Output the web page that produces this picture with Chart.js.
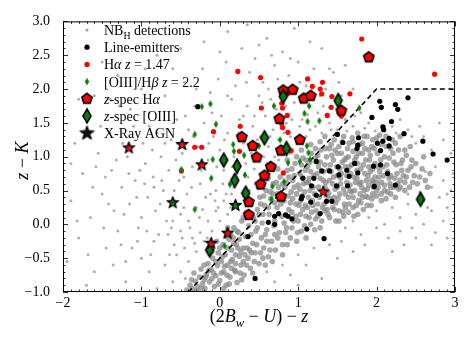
<!DOCTYPE html>
<html>
<head>
<meta charset="utf-8">
<script src="https://cdn.jsdelivr.net/npm/chart.js@4.4.1/dist/chart.umd.min.js"></script>
<style>
  html, body { margin: 0; padding: 0; background: #fff; }
  #chart { display: block; }
</style>
</head>
<body>
<canvas id="chart" width="469" height="342"></canvas>
<script>
// colour-colour diagram: z-K vs (2Bw-U)-z

// x-ray AGN (star), with the line class they were picked on
const agnPoints = [[-1.16, 1.13], [-0.48, 1.18], [-0.23, 0.88], [-0.60, 0.32], [0.20, 0.28], [0.10, -0.13], [-0.11, -0.28], [1.32, 0.48]]
const agnClass = ['Ha', 'Ha', 'Ha', 'OIII', 'OIII', 'Ha', 'Ha', 'HaFace']

// spectroscopically confirmed
const specOIII = [[0.81, 1.89], [1.51, 1.83], [0.57, 1.28], [0.85, 1.12], [0.05, 0.95], [0.22, 0.86], [0.19, 0.65], [0.33, 0.46], [2.56, 0.37], [-0.13, -0.38]]
const specHa = [[1.90, 2.47], [0.81, 1.98], [0.93, 1.99], [1.07, 1.86], [1.16, 1.90], [1.55, 1.68], [0.76, 1.56], [0.28, 1.29], [0.42, 1.16], [1.02, 1.25],
  [0.78, 1.09], [0.47, 0.99], [0.65, 0.85], [0.57, 0.72], [0.52, 0.59], [0.78, 0.41], [0.37, 0.33], [0.37, 0.14]]

// photometric selections
const oiiiEmitters = [[-0.23, 1.74], [-0.12, 1.78], [-0.05, 1.48], [-0.32, 1.33], [0.69, 1.75], [1.08, 1.64], [1.12, 1.52], [1.27, 1.53], [1.78, 1.72], [0.77, 1.25],
  [0.17, 1.18], [1.11, 1.16], [1.14, 1.75], [0.18, 1.08], [0.31, 1.02], [-0.09, 0.96], [-0.11, 0.68], [0.13, 0.59], [0.32, 0.73], [0.67, 0.56],
  [0.82, 0.63], [0.87, 0.91], [1.02, 0.93], [1.13, 1.06], [1.15, 0.96], [0.66, 0.37], [-0.32, 0.22], [0.06, -0.32], [-0.49, 0.81], [0.50, 1.16]]
const haEmitters = [[1.81, 2.74], [2.74, 2.22], [0.23, 2.26], [0.52, 2.17], [1.12, 2.15], [1.18, 2.04], [1.31, 2.10], [1.28, 2.00], [1.30, 1.93], [1.43, 1.89],
  [1.66, 1.93], [0.86, 1.93], [0.53, 1.72], [0.79, 1.79], [0.80, 1.72], [1.42, 1.73], [1.37, 1.61], [0.26, 1.45], [-0.08, 1.37], [0.79, 1.49],
  [0.80, 1.43], [0.87, 1.36], [-0.32, 1.14], [-0.23, 1.14], [0.25, 1.08], [0.86, 1.61], [0.81, 0.76], [0.91, 1.09], [-0.49, 0.79], [1.55, 1.60]]
const lineEmitters = [[2.04, 1.82], [2.06, 1.73], [2.24, 1.77], [2.27, 1.70], [2.40, 1.87], [1.94, 1.58], [2.19, 1.52], [-0.28, 1.74], [2.08, 1.44], [2.09, 1.40],
  [2.35, 1.34], [2.16, 1.27], [2.08, 1.23], [2.01, 1.20], [2.16, 1.16], [2.59, 1.23], [2.05, 1.09], [2.72, 1.04], [2.90, 0.95], [1.96, 0.86],
  [2.05, 0.88], [2.14, 0.75], [1.97, 0.56], [2.24, 0.58], [1.50, 1.33], [1.57, 1.21], [1.77, 1.28], [1.76, 1.17], [1.75, 1.12], [1.23, 0.93],
  [1.06, 0.68], [1.20, 0.68], [1.30, 0.79], [1.40, 0.79], [1.51, 0.85], [1.52, 0.73], [1.62, 0.80], [1.65, 0.71], [1.76, 0.76], [1.72, 0.90],
  [1.63, 0.57], [1.17, 0.57], [1.49, 0.57], [1.05, 0.41], [1.16, 0.33], [1.23, 0.43], [1.36, 0.34], [1.43, 0.34], [1.28, 0.16], [0.84, 0.14],
  [0.87, 0.12], [0.70, 0.12], [0.75, 0.16], [0.92, 0.08], [0.62, 0.03], [0.70, 0.00], [1.11, -0.07], [1.33, -0.21], [0.36, -0.18], [0.45, -0.80], [1.04, 0.38]]

// NB_H detections, main locus
const nbCore = [[-0.42, -0.97], [-0.38, -0.9], [-0.35, -0.95], [-0.31, -0.84], [-0.28, -0.92], [-0.26, -0.78], [-0.33, -0.72], [-0.22, -0.88], [-0.24, -0.66], [-0.19, -0.95],
  [-0.17, -0.74], [-0.15, -0.58], [-0.13, -0.85], [-0.11, -0.67], [-0.09, -0.5], [-0.07, -0.92], [-0.05, -0.76], [-0.03, -0.61], [-0.02, -0.42], [0.0, -0.83],
  [0.02, -0.55], [0.04, -0.3], [0.05, -0.7], [0.07, -0.45], [0.08, -0.9], [0.1, -0.6], [0.12, -0.22], [0.13, -0.78], [0.15, -0.38], [0.16, -0.52],
  [0.18, -0.05], [0.19, -0.68], [0.21, -0.3], [0.22, -0.86], [0.24, -0.12], [0.25, -0.47], [0.27, -0.6], [0.28, 0.05], [0.3, -0.35], [0.31, -0.75],
  [0.33, -0.18], [0.34, 0.18], [0.36, -0.5], [0.37, -0.02], [0.39, -0.65], [0.4, 0.3], [0.42, -0.28], [0.43, 0.1], [0.45, -0.42], [0.46, -0.1],
  [0.48, 0.22], [0.5, -0.58], [0.51, 0.4], [0.53, -0.2], [0.54, 0.02], [0.56, -0.35], [0.57, 0.28], [0.59, 0.5], [0.6, -0.08], [0.62, -0.48],
  [0.63, 0.15], [0.65, 0.38], [0.66, -0.25], [0.68, 0.6], [0.7, 0.05], [0.71, -0.38], [0.73, 0.25], [0.74, 0.45], [0.76, -0.12], [0.77, 0.7],
  [0.79, 0.12], [0.8, -0.3], [0.82, 0.35], [0.83, 0.55], [0.85, -0.05], [0.86, 0.8], [0.88, 0.22], [0.9, -0.2], [0.91, 0.48], [0.93, 0.65],
  [0.94, 0.05], [0.96, 0.9], [0.97, 0.3], [0.99, -0.12], [1.0, 0.58], [1.02, 0.75], [1.03, 0.15], [1.05, 0.42], [1.06, 0.98], [1.08, -0.02],
  [1.09, 0.28], [1.11, 0.62], [1.12, 0.85], [1.14, 0.1], [1.15, 0.5], [1.17, 1.05], [1.18, 0.35], [1.2, 0.72], [1.21, -0.08], [1.23, 0.2],
  [1.24, 0.92], [1.26, 0.55], [1.27, 0.4], [1.29, 1.1], [1.3, 0.05], [1.32, 0.78], [1.33, 0.3], [1.35, 0.62], [1.36, 1.0], [1.38, 0.15],
  [1.39, 0.46], [1.41, 0.88], [1.42, 1.18], [1.44, 0.25], [1.45, 0.7], [1.47, 0.52], [1.48, 0.05], [1.5, 1.05], [1.51, 0.38], [1.53, 0.82],
  [1.54, 0.6], [1.56, 1.22], [1.57, 0.18], [1.59, 0.95], [1.6, 0.45], [1.62, 0.72], [1.63, 1.12], [1.65, 0.3], [1.66, 0.58], [1.68, 0.88],
  [1.69, 1.28], [1.71, 0.12], [1.72, 0.5], [1.74, 1.0], [1.75, 0.68], [1.77, 0.35], [1.78, 1.18], [1.8, 0.82], [1.81, 0.55], [1.83, 0.22],
  [1.84, 1.3], [1.86, 0.95], [1.87, 0.65], [1.89, 0.4], [1.9, 1.1], [1.92, 0.78], [1.93, 0.28], [1.95, 1.25], [1.96, 0.55], [1.98, 0.9],
  [2.0, 0.42], [2.01, 1.05], [2.03, 0.7], [2.04, 1.32], [2.06, 0.35], [2.08, 0.85], [2.1, 0.58], [2.12, 1.15], [2.14, 0.48], [2.16, 0.98],
  [2.18, 0.72], [2.2, 1.25], [2.22, 0.55], [2.25, 0.88], [2.28, 1.1], [2.3, 0.65], [2.33, 0.95], [2.36, 0.5], [2.4, 0.8], [2.43, 1.15],
  [2.46, 0.62], [2.5, 0.9], [2.55, 0.7], [2.6, 1.0], [2.65, 0.55],
  [0.82, 0.02], [0.87, 0.42], [0.92, 0.18], [0.95, 0.72], [0.98, 0.45], [1.01, 0.28], [1.04, 0.88], [1.07, 0.6], [1.1, 0.12], [1.13, 0.4],
  [1.16, 0.78], [1.19, 0.55], [1.22, 0.98], [1.25, 0.3], [1.28, 0.68], [1.31, 0.5], [1.34, 0.88], [1.37, 0.22], [1.4, 0.65], [1.43, 1.02],
  [1.46, 0.4], [1.49, 0.85], [1.52, 0.2], [1.55, 0.75], [1.58, 0.52], [1.61, 0.98], [1.64, 0.4], [1.67, 0.75], [1.7, 1.08], [1.73, 0.62],
  [1.76, 0.9], [1.79, 0.45], [1.82, 1.05], [1.85, 0.75], [1.88, 0.52], [1.91, 0.95], [1.94, 0.65], [1.97, 1.12], [2.02, 0.55], [2.05, 0.95],
  [2.09, 0.72], [2.13, 0.88], [2.17, 0.6], [2.21, 1.05], [2.26, 0.75], [2.31, 0.9],
  [0.9, 0.32], [1.0, 0.05], [1.12, 0.25], [1.25, 0.12], [1.36, 0.42], [1.5, 0.55], [1.6, 0.25], [1.7, 0.4], [1.8, 0.32], [1.9, 0.58],
  [2.0, 0.62], [1.45, 0.95], [1.55, 1.05], [1.65, 1.2], [1.75, 0.8], [1.85, 1.12], [1.95, 0.82], [1.35, 1.12], [1.25, 1.02], [1.15, 0.92],
  [1.05, 0.7], [0.95, 0.55], [0.85, 0.62], [0.75, 0.55], [0.7, 0.32], [0.62, 0.25], [0.55, 0.15], [0.48, -0.05], [0.4, -0.15], [0.35, -0.35],
  [0.3, 0.1], [0.25, -0.22], [0.2, -0.45], [0.14, -0.15], [0.1, -0.35], [0.06, -0.62], [0.0, -0.35], [-0.05, -0.55], [-0.1, -0.8], [-0.2, -0.6],
  [0.93, 0.38], [0.97, 0.12], [1.02, 0.52], [1.06, 0.22], [1.09, 0.8], [1.13, 0.62], [1.17, 0.18], [1.21, 0.45], [1.24, 0.75], [1.28, 0.92],
  [1.31, 0.25], [1.34, 0.55], [1.38, 0.8], [1.41, 0.38], [1.44, 0.6], [1.47, 1.1], [1.5, 0.72], [1.53, 0.45], [1.56, 0.92], [1.59, 0.3],
  [1.62, 0.62], [1.65, 0.85], [1.68, 0.48], [1.71, 0.7], [1.74, 0.28], [1.77, 1.05], [1.8, 0.62], [1.83, 0.88], [1.86, 0.42], [1.89, 0.72],
  [1.92, 1.02], [1.95, 0.45], [1.98, 0.7], [2.02, 0.85], [2.06, 0.62], [2.1, 1.0], [2.14, 0.78], [2.18, 0.45], [2.23, 0.68], [2.28, 0.52],
  [2.34, 0.72], [2.38, 1.02], [2.44, 0.85],
  [0.45, 0.05], [0.52, 0.3], [0.58, -0.15], [0.64, 0.48], [0.69, -0.02], [0.72, 0.62], [0.78, 0.3], [0.84, -0.12], [0.88, 0.7], [0.3, -0.55],
  [0.22, -0.1], [0.15, -0.65], [0.08, -0.18], [0.02, -0.72], [-0.04, -0.25], [-0.1, -0.4], [-0.18, -0.78], [-0.24, -0.95], [0.35, 0.12], [0.4, -0.42],
  [0.5, 0.15], [0.27, -0.4], [0.18, -0.28], [0.1, -0.05],
  [0.05, -0.95], [0.12, -0.88], [0.2, -0.7], [0.28, -0.82], [0.34, -0.6], [0.42, -0.72], [0.47, -0.3], [0.55, -0.5], [0.6, -0.25], [0.67, -0.55],
  [0.74, -0.2], [0.8, -0.45], [0.86, -0.3], [0.92, -0.05], [0.98, -0.25], [1.04, -0.1], [1.1, -0.2], [1.16, 0.0], [1.22, 0.08], [1.28, -0.05],
  [1.34, 0.2], [1.4, 0.1], [1.46, 0.22], [1.52, 0.05], [1.58, 0.12], [1.64, 0.18], [1.7, 0.25], [1.76, 0.15], [1.82, 0.4], [1.88, 0.28],
  [1.94, 0.38], [2.0, 0.5], [2.06, 0.45], [2.12, 0.38], [2.18, 0.55], [2.24, 0.4], [2.3, 0.55], [2.36, 0.62], [2.42, 0.55], [2.48, 0.72],
  [2.52, 0.6], [2.58, 0.82], [2.62, 0.65], [2.68, 0.75],
  [0.5, 0.55], [0.56, 0.42], [0.62, 0.68], [0.68, 0.45], [0.74, 0.82], [0.8, 0.6], [0.86, 0.95], [0.92, 0.82], [0.98, 1.0], [1.04, 1.1],
  [1.1, 0.95], [1.16, 1.18], [1.22, 1.12], [1.28, 1.22], [1.34, 1.3], [1.4, 1.12], [1.46, 1.25], [1.52, 1.15], [1.58, 1.3], [1.64, 1.0],
  [1.7, 1.22], [1.76, 1.35], [1.82, 1.2], [1.88, 1.3], [1.94, 1.15], [2.0, 1.28], [2.06, 1.18], [2.12, 1.3], [2.18, 1.12], [2.24, 1.2],
  [2.3, 1.3], [2.36, 1.1],
  [1.03, 0.35], [1.08, 0.48], [1.14, 0.68], [1.19, 0.28], [1.26, 0.85], [1.32, 0.65], [1.37, 0.5], [1.42, 0.78], [1.48, 0.32], [1.54, 0.68],
  [1.6, 0.85], [1.66, 0.5], [1.72, 0.95], [1.78, 0.6], [1.84, 0.5], [1.9, 0.85], [1.96, 0.62], [2.04, 0.78], [2.1, 0.5], [2.16, 0.68],
  [2.22, 0.92], [2.27, 0.6], [2.32, 0.8], [2.38, 0.7], [2.45, 0.95],
  [-0.36, -0.82], [-0.3, -0.98], [-0.2, -0.82], [-0.14, -0.68], [-0.08, -0.72], [-0.02, -0.88], [0.03, -0.48], [0.09, -0.75], [0.14, -0.55], [0.2, -0.58],
  [0.26, -0.72], [0.32, -0.45], [0.38, -0.38], [0.44, -0.55], [0.52, -0.42], [0.58, -0.6], [0.64, -0.38], [0.7, -0.15], [0.23, -0.35], [0.17, -0.2]]

// NB_H detections, outskirts
const nbSparse = [[0.55, 0.72], [0.6, 0.9], [0.65, 0.8], [0.7, 1.0], [0.75, 0.95], [0.8, 1.15], [0.9, 1.05], [1.0, 1.25], [1.1, 1.3], [0.45, 0.6],
  [0.38, 0.5], [0.3, 0.42], [0.2, 0.3], [0.1, 0.15], [0.0, 0.05], [-0.1, -0.1], [-0.2, -0.25], [-0.3, -0.4], [-0.4, -0.55], [0.15, 0.45],
  [0.05, 0.35], [-0.05, 0.2], [-0.15, 0.05], [-0.25, -0.12], [-0.35, -0.2], [-0.45, -0.35], [-0.5, -0.1], [-0.6, 0.05],
  [1.6, -0.05], [1.7, 0.05], [1.8, -0.15], [1.9, 0.1], [2.0, 0.2], [2.1, 0.0], [2.2, 0.25], [2.3, 0.1], [2.4, 0.3], [2.5, 0.15],
  [2.6, 0.35], [2.7, 0.2], [2.8, 0.4], [2.9, 0.25], [2.95, 0.5], [2.3, -0.1], [2.45, -0.05], [2.6, 0.0], [2.75, -0.12], [2.85, 0.05],
  [2.15, -0.2], [2.0, -0.05], [1.85, -0.3], [2.4, 0.45], [2.55, 0.48], [2.7, 0.55], [2.85, 0.65], [2.62, 0.78], [2.75, 0.85], [2.9, 0.95],
  [2.5, 1.2], [2.6, 1.3], [2.4, 1.4], [2.2, 1.45], [2.3, 1.55], [2.7, 1.1], [2.85, 1.25], [1.4, -0.3], [1.55, -0.25], [1.2, -0.35],
  [1.0, -0.45], [0.8, -0.6], [0.6, -0.7], [0.9, -0.75], [1.3, -0.8], [1.1, -0.6],
  [-1.95, -0.55], [-1.9, 0.35], [-1.85, 1.2], [-1.8, -0.2], [-1.75, 0.75], [-1.7, 1.6], [-1.65, 0.1], [-1.6, -0.7], [-1.55, 1.05], [-1.5, 0.45],
  [-1.45, -0.35], [-1.4, 1.35], [-1.38, 0.8], [-1.35, 0.2], [-1.3, -0.1], [-1.28, 1.75], [-1.25, 0.55], [-1.2, -0.55], [-1.18, 1.0], [-1.15, 0.3],
  [-1.1, 1.45], [-1.08, 0.65], [-1.05, -0.25], [-1.0, 0.1], [-0.98, 1.2], [-0.95, 0.9], [-0.92, 0.4], [-0.9, 1.65], [-0.88, -0.45], [-0.85, 0.7],
  [-0.82, 0.2], [-0.8, 1.35], [-0.78, -0.15], [-0.75, 1.0], [-0.72, 0.5], [-0.7, 1.9], [-0.68, 0.05], [-0.65, 0.8], [-0.62, 1.25], [-0.6, 0.35],
  [-0.58, -0.3], [-0.55, 1.55], [-0.52, 0.65], [-0.5, 0.15], [-0.48, 1.05], [-0.45, 2.1], [-0.42, 0.45], [-0.4, 1.4], [-0.38, -0.05], [-0.35, 0.85],
  [-0.32, 1.75], [-0.3, 0.25], [-0.28, 1.15], [-0.25, 0.6], [-0.22, 2.3], [-0.2, 1.5], [-0.18, 0.4], [-0.15, 0.95], [-0.12, 1.95], [-0.1, 0.7],
  [-0.08, 1.3], [-0.05, 0.5], [-0.02, 2.15], [0.0, 1.1], [0.02, 1.6], [0.05, 0.8], [0.08, 2.4], [0.1, 1.35], [0.12, 0.6], [0.15, 1.85],
  [0.18, 1.0], [0.2, 2.05], [0.22, 0.75], [0.25, 1.55], [0.28, 2.6], [0.3, 1.2], [0.33, 0.9], [0.35, 1.75], [0.38, 2.25], [0.4, 1.05],
  [0.42, 1.45], [0.45, 2.45], [0.48, 0.95], [0.5, 1.9], [0.52, 1.3], [0.55, 2.1], [0.58, 1.6], [0.6, 2.75], [0.62, 1.15], [0.65, 1.85],
  [0.68, 1.4], [0.7, 2.35], [0.72, 1.7], [0.75, 1.25], [0.78, 2.0], [0.8, 2.55], [0.85, 1.5], [0.88, 2.2], [0.9, 1.3], [0.95, 1.8],
  [1.0, 2.4], [1.05, 1.55], [1.1, 2.05], [1.15, 1.4], [1.2, 2.3], [1.25, 1.65], [1.3, 1.35], [1.35, 2.0], [1.4, 1.5], [1.45, 2.25],
  [1.5, 1.4], [1.55, 1.9], [1.6, 1.55], [1.7, 1.45], [1.8, 1.65], [1.9, 1.5], [1.3, 2.6], [1.6, 2.35], [1.15, 2.7], [0.95, 2.9],
  [-1.6, 1.9], [-1.3, 2.2], [-1.0, 2.0], [-0.8, 2.5], [-0.5, 2.6], [-0.2, 2.7], [0.1, 2.85], [0.35, 2.95],
  [-1.7, -0.9], [-1.2, -0.85], [-0.9, -0.7], [-0.7, -0.6], [-0.6, -0.85], [-0.8, -0.95], [-1.0, -0.5], [-0.5, -0.7],
  [-1.62, 0.55], [-1.48, -0.05], [-1.32, 0.95], [-1.22, 0.15], [-1.12, -0.35], [-1.02, 0.8], [-0.93, -0.1], [-0.86, 1.1], [-0.76, 0.3], [-0.66, -0.15],
  [-0.56, 0.95], [-0.46, 0.25], [-0.36, 0.55], [-0.26, 0.1], [-0.16, -0.2], [-0.06, 0.35], [0.04, 0.6], [0.14, 0.25], [-0.44, -0.8], [-0.64, -0.45],
  [-0.84, 0.55], [-1.06, 0.4], [-1.26, -0.3], [-1.46, 0.7],
  [-0.55, -0.45], [-0.48, -0.2], [-0.4, 0.05], [-0.32, -0.28], [-0.22, 0.22], [-0.12, 0.45], [-0.02, 0.25], [0.08, 0.45], [0.18, 0.55], [0.26, 0.3],
  [0.36, 0.7], [0.44, 0.82], [0.48, 1.25], [0.56, 1.0], [0.64, 1.3], [0.72, 1.12], [0.82, 1.35], [0.92, 1.55], [1.02, 1.45], [1.12, 1.62],
  [1.22, 1.45], [1.32, 1.75], [1.42, 1.4], [1.5, 1.65], [1.62, 1.38], [1.72, 1.6], [1.85, 1.42], [1.98, 1.38], [2.1, 1.45], [2.25, 1.35],
  [2.45, 1.3], [2.55, 1.45], [2.8, 1.5], [2.95, 1.05], [2.98, 0.75], [2.9, 0.45], [2.65, 0.25], [2.5, -0.2], [2.35, -0.3], [2.2, -0.4],
  [2.9, -0.2], [2.7, -0.3], [1.7, -0.4], [1.5, -0.5], [0.7, -0.85], [1.0, -0.9],
  [-1.9, 0.9], [-1.82, 0.05], [-1.72, 1.3], [-1.68, -0.45], [-1.58, 0.85], [-1.52, 1.45], [-1.42, 0.3], [-1.36, -0.6], [-1.24, 1.2], [-1.16, 0.75],
  [-1.14, 1.7], [-1.04, -0.05], [-0.96, 0.6], [-0.9, 1.45], [-0.84, -0.25], [-0.74, 0.65], [-0.7, 1.2], [-0.62, -0.05], [-0.58, 0.5], [-0.54, 1.2],
  [-0.46, 0.7], [-0.44, 1.6], [-0.34, 1.3], [-0.3, 2.0], [-0.24, 0.8], [-0.14, 1.2], [-0.1, 1.65], [-0.04, 0.85], [0.06, 1.25], [0.1, 1.9],
  [0.16, 0.85], [0.24, 1.35], [0.3, 1.6], [0.34, 2.1], [0.44, 1.6], [0.54, 1.8], [0.62, 2.0], [0.66, 2.5], [0.74, 2.15], [0.84, 1.75],
  [0.9, 2.45], [1.02, 2.1], [1.08, 1.85], [1.18, 2.0], [1.28, 1.9], [1.4, 2.3], [1.52, 2.1], [1.7, 2.0], [-1.5, 2.4], [-0.95, 2.3],
  [-0.6, 2.3], [0.0, 2.55], [0.5, 2.65], [-1.8, 1.85], [-1.4, 1.85]]

// selection boundary (dashed)
const cutX = [-0.4, 2.0, 3.0]
const cutY = [-1.0, 2.0, 2.0]

const xTicks = [-2, -1, 0, 1, 2, 3]
const yTicks = [-1.0, -0.5, 0.0, 0.5, 1.0, 1.5, 2.0, 2.5, 3.0]

const SERIF = '"Liberation Serif", "DejaVu Serif", serif'
const COLORS = {
  greyCore: 'rgba(135,135,135,0.72)',
  grey: 'rgba(150,150,150,0.75)',
  black: '#000000',
  red: '#ff0000',
  green: '#0b7d0b',
  edge: '#000000'
}

const toXY = arr => arr.map(p => ({ x: p[0], y: p[1] }))
const fmt = v => String(v).replace('-', '\u2212')

// marker images (pentagon, star, tall diamond)
function marker(size, draw) {
  const c = document.createElement('canvas')
  c.width = size
  c.height = size
  const g = c.getContext('2d')
  draw(g, size / 2, size / 2)
  return c
}

function pentagonPath(g, cx, cy, r) {
  g.beginPath()
  for (let i = 0; i < 5; i++) {
    const a = -Math.PI / 2 + i * 2 * Math.PI / 5
    g.lineTo(cx + r * Math.cos(a), cy + r * Math.sin(a))
  }
  g.closePath()
}

function starPath(g, cx, cy, r) {
  g.beginPath()
  for (let i = 0; i < 10; i++) {
    const a = -Math.PI / 2 + i * Math.PI / 5
    const rr = i % 2 === 0 ? r : r * 0.42
    g.lineTo(cx + rr * Math.cos(a), cy + rr * Math.sin(a))
  }
  g.closePath()
}

function diamondPath(g, cx, cy, hw, hh) {
  g.beginPath()
  g.moveTo(cx, cy - hh)
  g.lineTo(cx + hw, cy)
  g.lineTo(cx, cy + hh)
  g.lineTo(cx - hw, cy)
  g.closePath()
}

function pentagon(r, fill, lw) {
  return marker(Math.ceil(2 * (r + lw)) + 2, (g, cx, cy) => {
    pentagonPath(g, cx, cy, r)
    g.fillStyle = fill
    g.fill()
    g.lineWidth = lw
    g.strokeStyle = COLORS.edge
    g.stroke()
  })
}

function diamond(hw, hh, fill, lw) {
  return marker(Math.ceil(2 * (hh + lw)) + 2, (g, cx, cy) => {
    diamondPath(g, cx, cy, hw, hh)
    g.fillStyle = fill
    g.fill()
    if (lw > 0) {
      g.lineWidth = lw
      g.strokeStyle = COLORS.edge
      g.stroke()
    }
  })
}

// black star, with the line-class marker sitting in its middle
function agnStar(r, inner) {
  return marker(Math.ceil(2 * r) + 4, (g, cx, cy) => {
    starPath(g, cx, cy, r)
    g.fillStyle = '#111'
    g.fill()
    g.lineWidth = 1
    g.strokeStyle = COLORS.edge
    g.stroke()
    if (inner === 'Ha') {
      g.beginPath()
      g.arc(cx, cy + 0.5, 2.4, 0, Math.PI * 2)
      g.fillStyle = COLORS.red
      g.fill()
    } else if (inner === 'OIII') {
      diamondPath(g, cx, cy + 0.5, 2.3, 3.6)
      g.fillStyle = COLORS.green
      g.fill()
    } else if (inner === 'HaFace') {
      starPath(g, cx, cy + 0.3, r - 1.6)
      g.fillStyle = COLORS.red
      g.fill()
    }
  })
}

const imgPent = pentagon(5.4, COLORS.red, 1.6)
const imgBigDiamond = diamond(4, 7, COLORS.green, 1.6)
const imgSmallDiamond = diamond(2.2, 3.7, COLORS.green, 0)
const agnImages = { Ha: agnStar(6.4, 'Ha'), OIII: agnStar(6.4, 'OIII'), HaFace: agnStar(5.8, 'HaFace') }
const imgStarLegend = agnStar(7.5, 'none')

// text with italic / subscript runs: [text, 'i' | 's' | 'si' | '']
function richText(ctx, x, y, parts, size, align) {
  const runs = parts.map(([t, s]) => {
    const sub = s.includes('s')
    const fs = sub ? size * 0.7 : size
    ctx.font = (s.includes('i') ? 'italic ' : '') + fs + 'px ' + SERIF
    return { t, font: ctx.font, dy: sub ? size * 0.28 : 0, w: ctx.measureText(t).width }
  })
  const total = runs.reduce((s, r) => s + r.w, 0)
  let cx = align === 'center' ? x - total / 2 : x
  ctx.textAlign = 'left'
  ctx.textBaseline = 'alphabetic'
  for (const r of runs) {
    ctx.font = r.font
    ctx.fillText(r.t, cx, y + r.dy)
    cx += r.w
  }
}

const legendItems = [
  { kind: 'grey', parts: [['NB', ''], ['H', 's'], [' detections', '']] },
  { kind: 'black', parts: [['Line-emitters', '']] },
  { kind: 'red', parts: [['H', ''], ['\u03b1', 'i'], [' ', ''], ['z', 'i'], [' = 1.47', '']] },
  { kind: 'smallDiamond', parts: [['[OIII]/H', ''], ['\u03b2', 'i'], [' ', ''], ['z', 'i'], [' = 2.2', '']] },
  { kind: 'pent', parts: [['z', 'i'], ['-spec H', ''], ['\u03b1', 'i']] },
  { kind: 'bigDiamond', parts: [['z', 'i'], ['-spec [OIII]', '']] },
  { kind: 'star', parts: [['X-Ray AGN', '']] }
]

const framePlugin = {
  id: 'frame',
  afterDatasetsDraw(chart) {
    const { ctx, chartArea: a, scales: { x, y } } = chart
    ctx.save()
    ctx.strokeStyle = '#000'
    ctx.lineWidth = 1
    ctx.strokeRect(a.left + 0.5, a.top + 0.5, a.right - a.left - 1, a.bottom - a.top - 1)
    ctx.lineWidth = 0.8
    ctx.beginPath()
    for (let i = -20; i <= 30; i++) {
      const px = Math.round(x.getPixelForValue(i / 10)) + 0.5
      const len = i % 10 === 0 ? 5 : 2.5
      ctx.moveTo(px, a.bottom); ctx.lineTo(px, a.bottom - len)
      ctx.moveTo(px, a.top); ctx.lineTo(px, a.top + len)
    }
    for (let i = -10; i <= 30; i++) {
      const py = Math.round(y.getPixelForValue(i / 10)) + 0.5
      const len = i % 5 === 0 ? 5 : 2.5
      ctx.moveTo(a.left, py); ctx.lineTo(a.left + len, py)
      ctx.moveTo(a.right, py); ctx.lineTo(a.right - len, py)
    }
    ctx.stroke()
    ctx.restore()
  }
}

const textPlugin = {
  id: 'texts',
  afterDraw(chart) {
    const { ctx, chartArea: a } = chart
    ctx.save()
    ctx.fillStyle = '#000'
    // axis titles
    richText(ctx, (a.left + a.right) / 2, 322, [['(2', ''], ['B', 'i'], ['w', 'si'], [' \u2212 ', ''], ['U', 'i'], [') \u2212 ', ''], ['z', 'i']], 18, 'center')
    ctx.save()
    ctx.translate(28, (a.top + a.bottom) / 2 + 4)
    ctx.rotate(-Math.PI / 2)
    richText(ctx, 0, 0, [['z', 'i'], [' \u2212 ', ''], ['K', 'i']], 18, 'center')
    ctx.restore()

    // legend (no frame, upper left inside the axes)
    const mx = 87, tx = 104, y0 = 30, dy = 17.2
    legendItems.forEach((item, i) => {
      const cy = y0 + i * dy
      ctx.beginPath()
      if (item.kind === 'grey') {
        ctx.fillStyle = 'rgba(140,140,140,0.8)'
        ctx.arc(mx, cy, 1.6, 0, Math.PI * 2)
        ctx.fill()
      } else if (item.kind === 'black') {
        ctx.fillStyle = COLORS.black
        ctx.arc(mx, cy, 2.6, 0, Math.PI * 2)
        ctx.fill()
      } else if (item.kind === 'red') {
        ctx.fillStyle = COLORS.red
        ctx.arc(mx, cy, 2.6, 0, Math.PI * 2)
        ctx.fill()
      } else {
        const img = { smallDiamond: imgSmallDiamond, pent: imgPent, bigDiamond: imgBigDiamond, star: imgStarLegend }[item.kind]
        ctx.drawImage(img, mx - img.width / 2, cy - img.height / 2)
      }
      ctx.fillStyle = '#000'
      richText(ctx, tx, cy + 5, item.parts, 14, 'left')
    })
    ctx.restore()
  }
}

new Chart(document.getElementById('chart'), {
  type: 'scatter',
  data: {
    datasets: [
      {
        label: 'X-Ray AGN',
        data: toXY(agnPoints),
        pointStyle: agnClass.map(c => agnImages[c])
      },
      { label: 'z-spec [OIII]', data: toXY(specOIII), pointStyle: imgBigDiamond },
      { label: 'z-spec Ha', data: toXY(specHa), pointStyle: imgPent },
      { label: '[OIII]/Hb z=2.2', data: toXY(oiiiEmitters), pointStyle: imgSmallDiamond },
      {
        label: 'Ha z=1.47',
        data: toXY(haEmitters),
        pointRadius: 2.6,
        backgroundColor: COLORS.red,
        borderWidth: 0
      },
      {
        label: 'Line-emitters',
        data: toXY(lineEmitters),
        pointRadius: 2.6,
        backgroundColor: COLORS.black,
        borderWidth: 0
      },
      {
        label: 'cut',
        type: 'line',
        data: cutX.map((v, i) => ({ x: v, y: cutY[i] })),
        borderColor: '#000',
        borderWidth: 1.6,
        borderDash: [5, 3.5],
        pointRadius: 0,
        fill: false,
        tension: 0
      },
      {
        label: 'NB_H detections',
        data: toXY(nbSparse),
        pointRadius: 1.5,
        backgroundColor: COLORS.grey,
        borderWidth: 0
      },
      {
        label: 'NB_H detections (locus)',
        data: toXY(nbCore),
        pointRadius: 2.8,
        backgroundColor: COLORS.greyCore,
        borderWidth: 0
      }
    ]
  },
  options: {
    responsive: false,
    animation: false,
    events: [],
    layout: {
      padding: { top: 17, right: 14, left: 0, bottom: 0 }
    },
    plugins: {
      legend: { display: false },
      tooltip: { enabled: false }
    },
    scales: {
      x: {
        type: 'linear',
        min: -2,
        max: 3,
        afterFit: (scale) => { scale.height = 50 },
        afterBuildTicks: (scale) => { scale.ticks = xTicks.map(v => ({ value: v })) },
        grid: { display: false, drawTicks: false },
        border: { display: false },
        ticks: {
          color: '#000',
          padding: 3,
          maxRotation: 0,
          font: { family: SERIF, size: 14 },
          callback: (v) => fmt(v)
        }
      },
      y: {
        type: 'linear',
        min: -1,
        max: 3,
        afterFit: (scale) => { scale.width = 63 },
        afterBuildTicks: (scale) => { scale.ticks = yTicks.map(v => ({ value: v })) },
        grid: { display: false, drawTicks: false },
        border: { display: false },
        ticks: {
          color: '#000',
          padding: 13,
          font: { family: SERIF, size: 14 },
          callback: (v) => fmt(v.toFixed(1))
        }
      }
    }
  },
  plugins: [framePlugin, textPlugin]
})
</script>
</body>
</html>
